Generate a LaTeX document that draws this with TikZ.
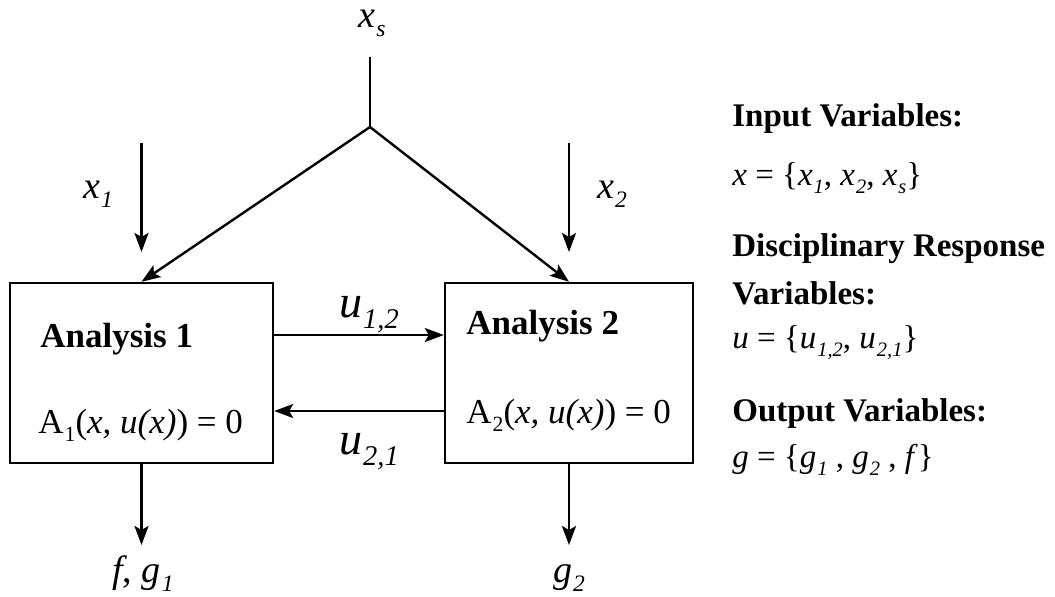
\documentclass[tikz,border=0pt]{standalone}
\usepackage{fontspec}
\setmainfont{Liberation Serif}
\usetikzlibrary{arrows.meta,positioning}
\newcommand{\lowsub}[1]{\kern0.5pt\raisebox{-0.55ex}{\scalebox{0.62}{#1}}}
\newcommand{\vsub}[2]{\textit{#1}\lowsub{\textit{#2}}}

\begin{document}
\begin{tikzpicture}[x=0.5pt, y=-0.5pt,
  >={Stealth[length=9.5pt,width=7pt,inset=2pt]},
  box/.style={draw, line width=1.2pt, minimum width=131.5pt, minimum height=90pt, inner sep=0pt},
  wire/.style={line width=1.2pt},
  head/.style={inner sep=0pt, anchor=base west, font=\fontsize{16.5}{20}\selectfont\bfseries},
  eqn/.style={inner sep=0pt, anchor=base west, font=\fontsize{17.5}{21}\selectfont},
  var/.style={inner sep=0pt, anchor=base, font=\fontsize{19}{22}\selectfont},
  uvar/.style={inner sep=0pt, anchor=base, font=\fontsize{23}{26}\selectfont},
  set/.style={inner sep=0pt, anchor=base west, font=\fontsize{16.5}{20}\selectfont}]
  \useasboundingbox (0,0) rectangle (1055,596);
  % analysis blocks
  \node[box] (b1) at (141.5,373) {};
  \node[box, minimum width=124pt] (b2) at (569,373) {};
  \node[head, font=\fontsize{17.5}{21}\selectfont\bfseries] (t1) at (40,347) {Analysis 1};
  \node[head, font=\fontsize{17.5}{21}\selectfont\bfseries] (t2) at (466,334) {Analysis 2};
  \node[eqn] (e1) at (38,433) {A\lowsub{1}(\textit{x, u(x)}) = 0};
  \node[eqn] (e2) at (466,423) {A\lowsub{2}(\textit{x, u(x)}) = 0};
  % inputs
  \node[var] (xs) at (372,27) {\vsub{x}{s}};
  \node[var] (x1) at (98,198) {\vsub{x}{1}};
  \node[var] (x2) at (612,198) {\vsub{x}{2}};
  \coordinate (xst) at (370,57);
  \coordinate (j) at (370,127);
  \coordinate (x1t) at (141.5,143);
  \coordinate (x1e) at (141.5,252);
  \coordinate (x2t) at (569,143);
  \coordinate (x2e) at (569,252);
  \draw[wire] (xst) -- (j);
  \draw[wire, ->] (j) -- (b1.north);
  \draw[wire, ->] (j) -- (b2.north);
  \draw[wire, ->] (x1t) -- (x1e);
  \draw[wire, ->] (x2t) -- (x2e);
  % coupling
  \draw[wire, ->] ([yshift=19pt]b1.east) -- ([yshift=19pt]b2.west);
  \draw[wire, ->] ([yshift=-19pt]b2.west) -- ([yshift=-19pt]b1.east);
  \node[uvar] (u12) at (369,317) {\vsub{u}{1,2}};
  \node[uvar] (u21) at (369,454) {\vsub{u}{2,1}};
  % outputs
  \coordinate (o1) at (141.5,545);
  \coordinate (o2) at (569,545);
  \draw[wire, ->] (b1.south) -- (o1);
  \draw[wire, ->] (b2.south) -- (o2);
  \node[var] (y1) at (143,582) {\textit{f}, \vsub{g}{1}};
  \node[var] (y2) at (569,582) {\vsub{g}{2}};
  % legend
  \node[head] (h1) at (732,126) {Input Variables:};
  \node[set] (s1) at (732,185) {\textit{x} = \{\vsub{x}{1}, \vsub{x}{2}, \vsub{x}{s}\}};
  \node[head] (h2) at (732,256) {Disciplinary Response};
  \node[head] (h3) at (732,304) {Variables:};
  \node[set] (s2) at (732,348) {\textit{u} = \{\vsub{u}{1,2}, \vsub{u}{2,1}\}};
  \node[head] (h4) at (732,421) {Output Variables:};
  \node[set] (s3) at (732,467) {\textit{g} = \{\vsub{g}{1} , \vsub{g}{2} , \textit{f}\}};
\end{tikzpicture}
\end{document}
